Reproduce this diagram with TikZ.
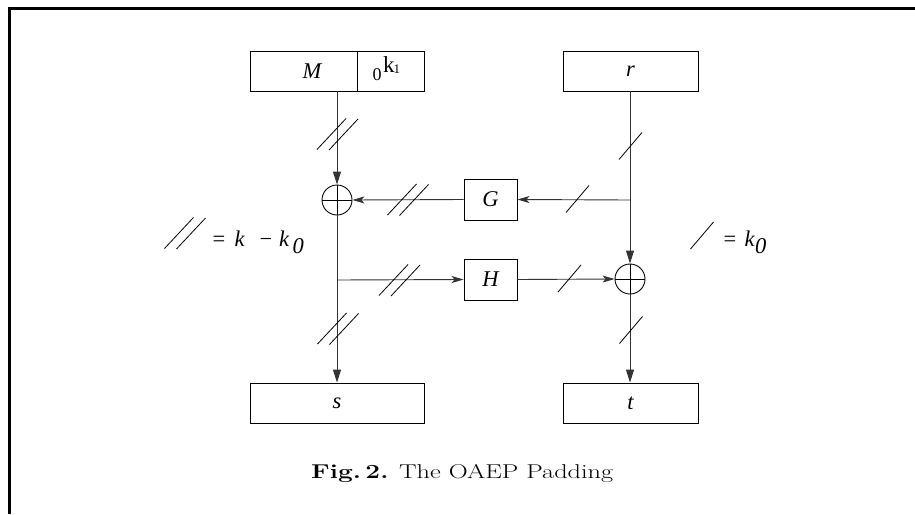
\documentclass[tikz,border=0pt]{standalone}
\usepackage{fontspec}
\usepackage{graphicx}
\newfontfamily\tms{Liberation Serif}
\usetikzlibrary{arrows.meta,calc}
\begin{document}
\begin{tikzpicture}[x=1pt,y=-1pt,
  wire/.style={line width=0.9pt,draw=black!80},
  box/.style={draw,line width=0.9pt,rectangle,inner sep=0pt,font=\tms\fontsize{22.5}{22.5}\selectfont\itshape},
  xor/.style={draw,line width=0.9pt,circle,minimum size=30pt,inner sep=0pt,
    path picture={\draw[line width=0.9pt] (path picture bounding box.north) -- (path picture bounding box.south)
      (path picture bounding box.west) -- (path picture bounding box.east);}},
  vtip/.style={-{Triangle[length=13pt,width=8pt]}},
  htip/.style={-{Stealth[length=12pt,width=7pt,inset=3pt]}},
  slash/.style={line width=0.8pt},
  lbl/.style={font=\tms\fontsize{22.5}{22.5}\selectfont,inner sep=0pt}]
\useasboundingbox (0,0) rectangle (915,514);
\draw[line width=3pt] (8,8.5) -- (915,8.5);
\draw[line width=2.3pt] (9.5,7) -- (9.5,514);
% boxes
\node[box,minimum width=107pt,minimum height=40pt] (Mbox) at (303.5,71) {\hspace*{17pt}M};
\node[box,minimum width=67pt,minimum height=40pt] (Kbox) at (390.5,71) {};
\node[lbl,anchor=base west] (Klbl) at (372.5,80) {\rlap{\fontsize{18}{18}\selectfont 0}\hspace{10.5pt}\rlap{\raisebox{8pt}{\fontsize{23}{23}\selectfont k}}\hspace{10.5pt}\raisebox{7pt}{\fontsize{13}{13}\selectfont 1}};
\node[box,minimum width=135pt,minimum height=40pt] (rbox) at (630.5,71) {r};
\node[box,minimum width=174pt,minimum height=40pt] (sbox) at (337,403) {s};
\node[box,minimum width=135pt,minimum height=40pt] (tbox) at (630.5,403) {t};
\node[box,minimum width=53pt,minimum height=41pt] (G) at (490.5,199.5) {G};
\node[box,minimum width=53pt,minimum height=41pt] (H) at (490.5,279.5) {H};
\node[xor] (xorL) at (337,200) {};
\node[xor] (xorR) at (630,279) {};
\coordinate (jR) at (630,200);
\coordinate (jL) at (337,280);
\coordinate (mtop) at (337,91);
% connectors
\draw[wire,vtip] (mtop) -- (xorL.north);
\draw[wire] (rbox.south -| jR) -- (jR);
\draw[wire,vtip] (jR) -- (xorR.north);
\draw[wire,htip] (jR) -- (G.east);
\draw[wire,htip] (G.west) -- (xorL.east);
\draw[wire] (xorL.south) -- (jL);
\draw[wire,vtip] (jL) -- (sbox.north);
\draw[wire,htip] (jL) -- (H.west);
\draw[wire,htip] (H.east) -- (xorR.west);
\draw[wire,vtip] (xorR.south) -- (tbox.north -| xorR);
% slash marks
\newcommand\sglslash[1]{\draw[slash] ($(#1)+(-11.5,13.5)$) -- ++(23,-27);}
\newcommand\dblslash[1]{\draw[slash] ($(#1)+(-20.5,15)$) -- ++(29,-31) ($(#1)+(-8.5,15.5)$) -- ++(29,-31);}
\dblslash{337.5,134.5}
\dblslash{408,200}
\sglslash{577.5,199}
\sglslash{630.5,146}
\sglslash{631,330}
\sglslash{569.5,278.5}
\dblslash{399.5,280.5}
\dblslash{338,329}
\dblslash{185,233.5}
\sglslash{702,235.5}
% legends
\node[lbl,anchor=base west] (legL) at (212.5,246.5) {\rlap{=}\hspace{22pt}\rlap{\textit{k}}\hspace{25pt}\rlap{\textminus}\hspace{19.5pt}\rlap{\textit{k}}\hspace{13.5pt}\raisebox{-6.5pt}{\textit{0}}};
\node[lbl,anchor=base west] (legR) at (723.5,246.5) {\rlap{=}\hspace{21pt}\rlap{\textit{k}}\hspace{10.5pt}\raisebox{-6.5pt}{\textit{0}}};
% caption
\node[anchor=base west,inner sep=0pt,font=\fontsize{20}{20}\selectfont] (cap) at (311,478) {\resizebox{302pt}{\height}{\textbf{Fig.\,2.} The OAEP Padding}};
\end{tikzpicture}
\end{document}
